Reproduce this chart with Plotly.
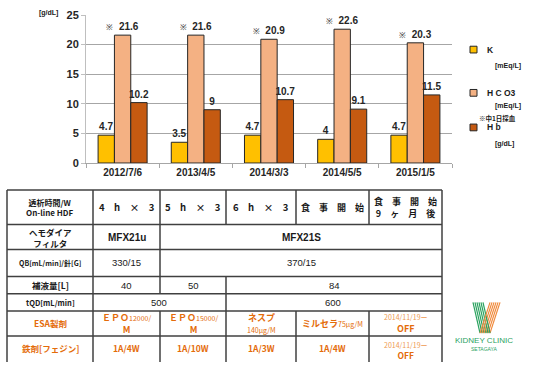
import plotly.graph_objects as go

categories = ["2012/7/6", "2013/4/5", "2014/3/3", "2014/5/5", "2015/1/5"]
k_vals = [4.7, 3.5, 4.7, 4, 4.7]
hco3_vals = [21.6, 21.6, 20.9, 22.6, 20.3]
hb_vals = [10.2, 9, 10.7, 9.1, 11.5]
y_ticks = [0, 5, 10, 15, 20, 25]

series_names = ["K", "H C O3", "H b"]
series_units = ["[mEq/L]", "[mEq/L]", "[g/dL]"]
colors = ["#FFC000", "#F4B183", "#C55A11"]

# table content
row_labels = ["透析時間/W<br>On-line HDF", "ヘモダイア<br>フィルタ", "QB[mL/min]/針[G]",
              "補液量[L]", "tQD[mL/min]", "ESA製剤", "鉄剤[フェジン]"]
hours = ["4　h　×　3", "5　h　×　3", "6　h　×　3", "食　事　開　始", "食　事　開　始<br>9　ヶ　月　後"]
filters = ["MFX21u", "MFX21S"]
qb = ["330/15", "370/15"]
hoeki = ["40", "50", "84"]
tqd = ["500", "600"]
esa = ["<b>ＥＰＯ</b><span style='font-size:7px'>12000/</span><br><b>M</b>",
       "<b>ＥＰＯ</b><span style='font-size:7px'>15000/</span><br><b>M</b>",
       "<b>ネスプ</b><br><span style='font-size:7px'>140μg/M</span>",
       "<b>ミルセラ</b><span style='font-size:7px'>75μg/M</span>",
       "<span style='font-size:7px;color:#EE9A50'>2014/11/19ー</span><br><b>OFF</b>"]
iron = ["1A/4W", "1A/10W", "1A/3W", "1A/4W",
        "<span style='font-size:7px;color:#EE9A50'>2014/11/19ー</span><br><b>OFF</b>"]

L, R, T, B = 86, 452, 9, 163
W, H = 536, 365


def px(x):
    return (x - L) / (R - L)


def py(y):
    return (B - y) / (B - T)


FONT = "Liberation Sans"
JP = "Noto Sans CJK JP"
ORANGE = "#E46C0A"

fig = go.Figure()
vals = [k_vals, hco3_vals, hb_vals]
texts = [
    [f"<b>{v:g}</b>" for v in k_vals],
    [f"<span style='font-size:8px'>※</span>  <b>{v:g}</b>" for v in hco3_vals],
    [f"<b>{v:g}</b>" for v in hb_vals],
]
for i in range(3):
    fig.add_trace(go.Bar(
        x=categories, y=vals[i], name=series_names[i],
        marker=dict(color=colors[i], line=dict(color="#262626", width=1)),
        text=texts[i], textposition="outside", cliponaxis=False,
        constraintext="none", textangle=0,
        textfont=dict(family=FONT, size=10, color="#262626"),
        showlegend=False,
    ))

fig.update_layout(
    width=W, height=H,
    margin=dict(l=L, r=W - R, t=T, b=H - B),
    paper_bgcolor="white", plot_bgcolor="white",
    barmode="group", bargap=0.33, bargroupgap=0,
    font=dict(family=FONT, size=10, color="#262626"),
)
fig.update_yaxes(range=[0, 25], tickvals=y_ticks,
                 ticktext=[f"<b>{v}</b>" for v in y_ticks],
                 showgrid=True, gridcolor="#A6A6A6", gridwidth=1,
                 showline=True, linecolor="#BFBFBF", linewidth=1,
                 ticks="outside", ticklen=4, tickcolor="#BFBFBF",
                 tickfont=dict(family=FONT, size=11, color="#262626"),
                 zeroline=False)
fig.update_xaxes(showline=True, linecolor="#A6A6A6", linewidth=1,
                 ticks="outside", ticklen=4, tickcolor="#A6A6A6",
                 tickson="boundaries",
                 tickvals=categories, ticktext=[f"<b>{c}</b>" for c in categories],
                 tickfont=dict(family=FONT, size=10, color="#262626"))

ann = []


def add_text(x, y, text, size=9, color="#1a1a1a", family=JP, xanchor="center", bold=True):
    t = f"<b>{text}</b>" if bold else text
    ann.append(dict(x=px(x), y=py(y), xref="paper", yref="paper", text=t,
                    showarrow=False, xanchor=xanchor, yanchor="middle",
                    font=dict(size=size, color=color, family=family), align="center"))


# axis unit
add_text(48, 7, "[g/dL]", size=7, family=FONT)

# custom legend
leg_y = [45, 90, 126]
unit_y = [62, 104, 143]
shapes = []
for i in range(3):
    shapes.append(dict(type="rect", xref="paper", yref="paper",
                       x0=px(470), x1=px(477), y0=py(leg_y[i] - 3.5), y1=py(leg_y[i] + 3.5),
                       fillcolor=colors[i], line=dict(color="#262626", width=1)))
    add_text(485, leg_y[i], series_names[i], size=8.5, family=FONT, xanchor="left")
    add_text(493, unit_y[i], series_units[i], size=7, family=FONT, xanchor="left")
add_text(477, 116, "※中1日採血", size=6.5, family=JP, xanchor="left")

# table grid
LC = "#404040"
LW = 1.5
hlines = [191, 227, 253, 281, 299, 317, 343]
for y in hlines:
    shapes.append(dict(type="line", xref="paper", yref="paper", x0=px(7), x1=px(442),
                       y0=py(y), y1=py(y), line=dict(color=LC, width=LW)))
vsegs = [
    (7, 191, 370), (93, 191, 370), (442, 191, 370),
    (160, 191, 299), (160, 317, 370),
    (226, 191, 227), (226, 281, 370),
    (296, 191, 227), (296, 317, 370),
    (369, 191, 227), (369, 317, 370),
]
for x, y0, y1 in vsegs:
    shapes.append(dict(type="line", xref="paper", yref="paper", x0=px(x), x1=px(x),
                       y0=py(y0), y1=py(y1), line=dict(color=LC, width=LW)))

# row labels
lab_y = [209, 240, 267, 290, 308, 330, 356]
lab_size = [8, 8.5, 7, 8.5, 7.5, 8.5, 8.5]
for i, t in enumerate(row_labels):
    c = ORANGE if i >= 5 else "#1a1a1a"
    add_text(50, lab_y[i], t, size=lab_size[i], color=c)

# row 1
col_c = [126.5, 193, 261, 332.5, 405.5]
for i, t in enumerate(hours):
    add_text(col_c[i], 209, t, size=9.5 if i < 3 else 9)
# row 2
add_text(126.5, 240, filters[0], size=10, family=FONT)
add_text(301, 240, filters[1], size=10, family=FONT)
# row 3
add_text(126.5, 267, qb[0], size=9.5, family=FONT, bold=False)
add_text(301, 267, qb[1], size=9.5, family=FONT, bold=False)
# row 4
add_text(126.5, 290, hoeki[0], size=9.5, family=FONT, bold=False)
add_text(193, 290, hoeki[1], size=9.5, family=FONT, bold=False)
add_text(334, 290, hoeki[2], size=9.5, family=FONT, bold=False)
# row 5
add_text(159, 308, tqd[0], size=9.5, family=FONT, bold=False)
add_text(333, 308, tqd[1], size=9.5, family=FONT, bold=False)
# row 6
for i, t in enumerate(esa):
    add_text(col_c[i], 330, t, size=9, color=ORANGE, bold=False)
# row 7
for i, t in enumerate(iron):
    add_text(col_c[i], 356 if i < 4 else 358, t, size=8.5, color=ORANGE, bold=(i < 4))

# logo
GREEN = "#2BA35F"
LOR = "#F08A3C"
for i in range(6):
    shapes.append(dict(type="line", xref="paper", yref="paper",
                       x0=px(473 + 2 * i), y0=py(308), x1=px(480 + 2 * i), y1=py(340),
                       line=dict(color=GREEN, width=1.2)))
    shapes.append(dict(type="line", xref="paper", yref="paper",
                       x0=px(500 - 2 * i), y0=py(308), x1=px(490 - 2 * i), y1=py(340),
                       line=dict(color=LOR, width=1.2)))
add_text(484, 348, "KIDNEY CLINIC", size=8, color=GREEN, family=FONT, bold=False)
add_text(484, 357, "SETAGAYA", size=5, color=GREEN, family=FONT, bold=False)

fig.update_layout(annotations=ann, shapes=shapes)
fig.write_html("out.html")
